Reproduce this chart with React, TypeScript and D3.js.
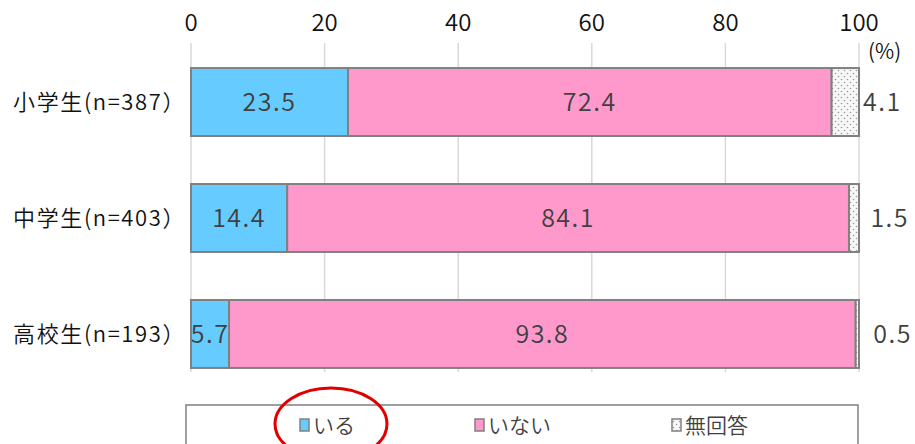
import React from "react"
import * as d3 from "d3"

const categories = ["小学生(n=387）", "中学生(n=403）", "高校生(n=193）"]
const seriesNames = ["いる", "いない", "無回答"]
const iruValues = [23.5, 14.4, 5.7]
const inaiValues = [72.4, 84.1, 93.8]
const mukaitoValues = [4.1, 1.5, 0.5]
const tickValues = [0, 20, 40, 60, 80, 100]

const fills = ["#66CCFF", "#FF99CC", "url(#dots)"]
const font = "'Noto Sans CJK JP', 'Noto Sans', sans-serif"

const App = () => {
  const width = 915
  const height = 444
  const x = d3.scaleLinear().domain([0, 100]).range([191, 859])
  const y = d3.scaleBand().domain(categories).range([43, 393]).paddingInner(0.414).paddingOuter(0.216)

  const series = [iruValues, inaiValues, mukaitoValues]
  const rows = categories.map((c, i) => {
    let acc = 0
    return series.map((vals, s) => {
      const x0 = acc
      acc += vals[i]
      return { cat: c, s, x0, x1: acc, v: vals[i] }
    })
  })

  const legendX = [300, 475, 672]

  return (
    <svg width={width} height={height} style={{ position: "absolute", left: 0, top: 0 }} fontFamily={font} fontWeight={350}>
      <defs>
        <pattern id="dots" width="6" height="6" patternUnits="userSpaceOnUse">
          <rect width="6" height="6" fill="#f7f7f7" />
          <circle cx="1.5" cy="1.5" r="0.8" fill="#999" />
          <circle cx="4.5" cy="4.5" r="0.8" fill="#999" />
        </pattern>
      </defs>

      {tickValues.map((t) => (
        <g key={t}>
          <line x1={x(t)} x2={x(t)} y1={43} y2={372} stroke="#d9d9d9" strokeWidth={1.5} />
          <text x={x(t)} y={31} textAnchor="middle" fontSize={24} fill="#111">
            {t}
          </text>
        </g>
      ))}
      <text x={868} y={59} fontSize={21} fill="#111">(%)</text>

      {rows.map((row) =>
        row.map((d) => {
          const yy = y(d.cat)!
          const h = y.bandwidth()
          return (
            <g key={d.cat + d.s}>
              <rect
                x={x(d.x0)}
                y={yy}
                width={x(d.x1) - x(d.x0)}
                height={h}
                fill={fills[d.s]}
                stroke="#808080"
                strokeWidth={2}
              />
              {d.s < 2 ? (
                <text x={(x(d.x0) + x(d.x1)) / 2} y={yy + h / 2 + 9} textAnchor="middle" fontSize={25} letterSpacing={1.5} fill="#404040">
                  {d.v.toFixed(1)}
                </text>
              ) : (
                <text x={x(100) + 3 + (4.5 - d.v) * 2.8} y={yy + h / 2 + 9} textAnchor="start" fontSize={25} letterSpacing={1.5} fill="#404040">
                  {d.v.toFixed(1)}
                </text>
              )}
            </g>
          )
        })
      )}

      {categories.map((c) => (
        <text key={c} x={186} y={y(c)! + y.bandwidth() / 2 + 8} textAnchor="end" fontSize={22} letterSpacing={1.6} fill="#111">
          {c}
        </text>
      ))}

      <rect x={186} y={405} width={672} height={60} fill="none" stroke="#808080" strokeWidth={1.5} />
      {seriesNames.map((n, i) => (
        <g key={n}>
          <rect x={legendX[i]} y={419} width={9} height={12} fill={fills[i]} stroke="#808080" strokeWidth={1.5} />
          <text x={legendX[i] + 13} y={433} fontSize={21} fill="#404040">
            {n}
          </text>
        </g>
      ))}
      <ellipse cx={331} cy={424} rx={56} ry={36} fill="none" stroke="#e00000" strokeWidth={3} />
    </svg>
  )
}

export default App
